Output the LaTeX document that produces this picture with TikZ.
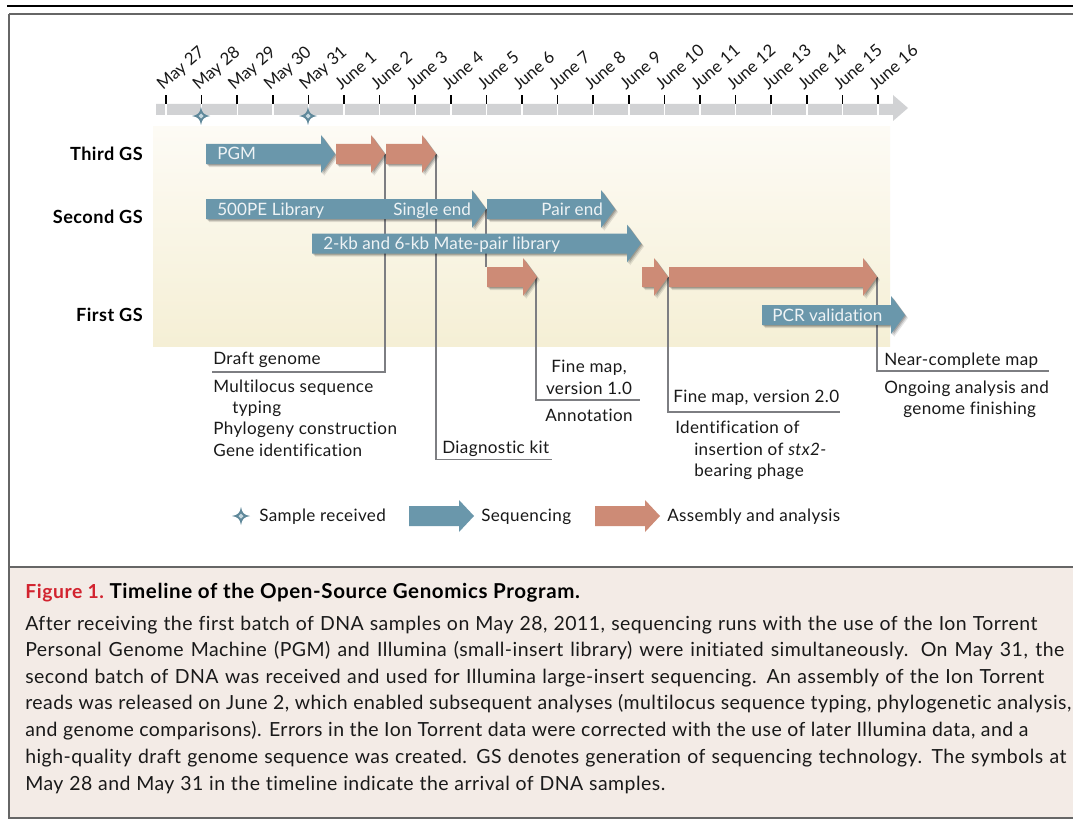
\documentclass[tikz,border=0pt]{standalone}
\usepackage{fontspec}
\setmainfont[Ligatures=NoCommon]{Lato}
\definecolor{seqblue}{HTML}{6A97AB}
\definecolor{asmred}{HTML}{CD8B76}
\definecolor{bargrey}{HTML}{D1D2D4}
\definecolor{linegrey}{HTML}{7D7E82}
\definecolor{capbg}{HTML}{F3EBE6}
\definecolor{figred}{HTML}{D2232F}
\definecolor{frameg}{HTML}{666666}
\definecolor{arrowtext}{HTML}{EEF3F5}
\definecolor{lightstar}{HTML}{C5D8E0}
\definecolor{bgtop}{HTML}{FDFBF5}
\definecolor{bgbot}{HTML}{F5EFD5}
\tikzset{
  x=0.75pt,y=-0.75pt,
  lab/.style={anchor=base west,inner sep=0pt,font=\fontsize{12.8}{14}\selectfont\addfontfeature{LetterSpace=2.2},text=black!90},
  labc/.style={anchor=base,inner sep=0pt,font=\fontsize{12.8}{14}\selectfont\addfontfeature{LetterSpace=2.2},text=black!90},
  rowlab/.style={anchor=base east,inner sep=0pt,font=\fontsize{13.6}{14}\selectfont\bfseries\addfontfeature{LetterSpace=2.5},text=black},
  arrlab/.style={anchor=base west,inner sep=0pt,font=\fontsize{12.8}{14}\selectfont\addfontfeature{LetterSpace=0.4},text=arrowtext},
  caplab/.style={anchor=base west,inner sep=0pt,font=\fontsize{14.6}{16}\selectfont\addfontfeature{LetterSpace=2.4},text=black!90},
  capheadlab/.style={anchor=base west,inner sep=0pt,font=\fontsize{15.4}{16}\selectfont\bfseries\addfontfeature{LetterSpace=3},text=black},
  datelab/.style={anchor=base west,inner sep=0pt,rotate=41,font=\fontsize{12.6}{14}\selectfont,text=black!90},
  leader/.style={draw=linegrey,line width=1.1pt},
}
% one caption line set to a width given in pixels of the reference
\newcommand{\fitl}[2]{\makebox[#1\dimexpr0.75pt\relax][s]{#2}}
% name, x0, x1, yc, colour
\newcommand{\garrow}[5]{%
  \foreach \o/\q in {3/.10,2/.14,1/.18}{%
    \fill[black,opacity=\q,shift={(\o,\o)}] (#2,#4-10) -- (#3-14,#4-10) -- (#3-14,#4-19) -- (#3,#4) -- (#3-14,#4+19) -- (#3-14,#4+10) -- (#2,#4+10) -- cycle;}%
  \fill[#5] (#2,#4-10) -- (#3-14,#4-10) -- (#3-14,#4-19) -- (#3,#4) -- (#3-14,#4+19) -- (#3-14,#4+10) -- (#2,#4+10) -- cycle;
}
\newcommand{\plainarrow}[5]{%
  \fill[#5] (#2,#4-10) -- (#3-15,#4-10) -- (#3-15,#4-16) -- (#3,#4) -- (#3-15,#4+16) -- (#3-15,#4+10) -- (#2,#4+10) -- cycle;
}
\newcommand{\gstar}[2]{%
  \fill[seqblue!90!black] (#1-9,#2) .. controls (#1-3,#2-1) and (#1-1,#2-3) .. (#1,#2-9) .. controls (#1+1,#2-3) and (#1+3,#2-1) .. (#1+9,#2) .. controls (#1+3,#2+1) and (#1+1,#2+3) .. (#1,#2+9) .. controls (#1-1,#2+3) and (#1-3,#2+1) .. (#1-9,#2) -- cycle;
  \fill[lightstar] (#1-2.5,#2) -- (#1,#2-2.5) -- (#1+2.5,#2) -- (#1,#2+2.5) -- cycle;
}
\begin{document}
\begin{tikzpicture}
\useasboundingbox (0,0) rectangle (1073,820);
\fill[white] (0,0) rectangle (1073,820);
% frame
\fill[capbg] (9,567) rectangle (1073,817);
\draw[frameg,line width=1.5pt] (9,14.5) -- (1073,14.5);
\draw[frameg,line width=1.5pt] (9,14) -- (9,818) -- (1073,818);
\draw[frameg,line width=1.5pt] (9,566.5) -- (1073,566.5);
\draw[black,line width=1.5pt] (7,6.5) -- (1073,6.5);
% background
\shade[top color=bgtop,bottom color=bgbot] (153,127) rectangle (890,346);
% time axis
\fill[bargrey] (156,104) -- (893,104) -- (893,95) -- (908,108) -- (893,121) -- (893,115) -- (156,115) -- cycle;
\foreach \i/\d in {0/May 27,1/May 28,2/May 29,3/May 30,4/May 31,5/June 1,6/June 2,7/June 3,8/June 4,9/June 5,10/June 6,11/June 7,12/June 8,13/June 9,14/June 10,15/June 11,16/June 12,17/June 13,18/June 14,19/June 15,20/June 16}{
  \pgfmathsetmacro{\tx}{166+35.6*\i}
  \fill[white] (\tx-0.6,104) rectangle (\tx+0.8,115);
  \fill[black] (\tx-0.8,95) rectangle (\tx+0.8,104);
  \node[datelab] (d\i) at (\tx-3,91) {\d};
}
\gstar{201}{116}
\gstar{308}{116}
% row labels
\node[rowlab] (third) at (143,160.5) {Third GS};
\node[rowlab] (second) at (143,223.5) {Second GS};
\node[rowlab] (first) at (143,321) {First GS};
% connector coordinates
\coordinate (a1) at (385,154);
\coordinate (a2) at (436,154);
\coordinate (a3) at (486,209);
\coordinate (a4) at (536,277);
\coordinate (a5) at (668,277);
\coordinate (a6) at (877,277);
\coordinate (e1) at (212,372);
\coordinate (e2) at (552,459.5);
\coordinate (e3) at (486,267);
\coordinate (e4) at (640,400);
\coordinate (e5) at (840,412);
\coordinate (e6) at (1049,371);
\draw[leader] (a1) |- (e1);
\draw[leader] (a2) |- (e2);
\draw[leader] (a3) -- (e3);
\draw[leader] (a4) |- (e4);
\draw[leader] (a5) |- (e5);
\draw[leader] (a6) |- (e6);
% arrows
\garrow{pgm}{206}{335}{154}{seqblue}
\garrow{as1}{336}{385}{154}{asmred}
\garrow{as2}{386}{436}{154}{asmred}
\garrow{pe5}{206}{486}{209}{seqblue}
\garrow{pair}{487}{615}{209}{seqblue}
\garrow{mate}{312}{641}{243.5}{seqblue}
\garrow{as3}{487}{537}{277}{asmred}
\garrow{as4}{642}{668}{277}{asmred}
\garrow{as5}{669}{877}{277}{asmred}
\garrow{pcr}{762}{905}{315}{seqblue}
% arrow labels
\node[arrlab] (lpgm) at (217,159) {PGM};
\node[arrlab] (l500) at (217,215) {500PE Library};
\node[arrlab] (lse) at (393,215) {Single end};
\node[arrlab] (lpe) at (541,215) {Pair end};
\node[arrlab] (lmp) at (323,249) {2-kb and 6-kb Mate-pair library};
\node[arrlab] (lpcr) at (772,321) {PCR validation};
% annotations
\node[lab] (t1) at (213,364) {Draft genome};
\node[lab] (t2) at (213,392) {Multilocus sequence};
\node[lab] (t3) at (232,413.5) {typing};
\node[lab] (t4) at (213,434) {Phylogeny construction};
\node[lab] (t5) at (213,456) {Gene identification};
\node[lab] (t6) at (442,453) {Diagnostic kit};
\node[labc] (t7) at (589,372) {Fine map,};
\node[labc] (t8) at (589,394) {version 1.0};
\node[labc] (t9) at (589,421) {Annotation};
\node[lab] (t10) at (673,402) {Fine map, version 2.0};
\node[lab] (t11) at (675,433) {Identification of};
\node[lab] (t12) at (694,455) {insertion of \textit{stx2-}};
\node[lab] (t13) at (694,476) {bearing phage};
\node[lab] (t14) at (884,365) {Near-complete map};
\node[lab] (t15) at (884,393) {Ongoing analysis and};
\node[lab] (t16) at (903,414) {genome finishing};
% legend
\gstar{241}{516}
\node[lab] (k1) at (259,521) {Sample received};
\plainarrow{k2a}{409}{474}{516}{seqblue}
\node[lab] (k2) at (481,521) {Sequencing};
\plainarrow{k3a}{595}{660}{516}{asmred}
\node[lab] (k3) at (667,521) {Assembly and analysis};
% caption
\node[capheadlab] (c0) at (25,598) {{\fontsize{14.5}{16}\selectfont\textcolor{figred}{Figure 1.}} \hspace{-1.5pt}Timeline of the Open-Source Genomics Program.};
\node[caplab] (c1) at (25,630) {\fitl{1012}{After receiving the first batch of DNA samples on May 28, 2011, sequencing runs with the use of the Ion Torrent}};
\node[caplab] (c2) at (25,656.5) {\fitl{1039}{Personal Genome Machine (PGM) and Illumina (small-insert library) were initiated simultaneously. On May 31, the}};
\node[caplab] (c3) at (25,683) {\fitl{1019}{second batch of DNA was received and used for Illumina large-insert sequencing. An assembly of the Ion Torrent}};
\node[caplab] (c4) at (25,709.5) {\fitl{1046}{reads was released on June 2, which enabled subsequent analyses (multilocus sequence typing, phylogenetic analysis,}};
\node[caplab] (c5) at (25,736) {\fitl{1003}{and genome comparisons). Errors in the Ion Torrent data were corrected with the use of later Illumina data, and a}};
\node[caplab] (c6) at (25,763) {\fitl{1041}{high-quality draft genome sequence was created. GS denotes generation of sequencing technology. The symbols at}};
\node[caplab] (c7) at (25,790) {\fitl{640}{May 28 and May 31 in the timeline indicate the arrival of DNA samples.}};
\end{tikzpicture}
\end{document}
